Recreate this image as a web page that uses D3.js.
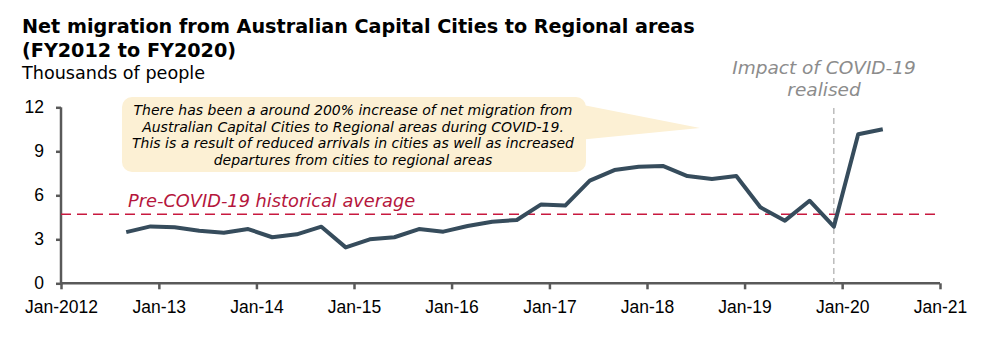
<!DOCTYPE html>
<html>
<head>
<meta charset="utf-8">
<script src="https://cdn.jsdelivr.net/npm/d3@7"></script>
<style>
    body { margin: 0; background: #fff; }
    svg { font-family: "DejaVu Sans", Verdana, sans-serif; }
    .axis path, .axis line { stroke: #595959; stroke-width: 2.5; }
    .axis text { fill: #000; font-size: 17.5px; }
</style>
</head>
<body>
<svg id="chart" width="992" height="349"></svg>
<script>
// quarterly observations, Sep 2012 .. Jun 2020
var quarters = ["2012-09", "2012-12", "2013-03", "2013-06", "2013-09", "2013-12", "2014-03", "2014-06",
    "2014-09", "2014-12", "2015-03", "2015-06", "2015-09", "2015-12", "2016-03", "2016-06",
    "2016-09", "2016-12", "2017-03", "2017-06", "2017-09", "2017-12", "2018-03", "2018-06",
    "2018-09", "2018-12", "2019-03", "2019-06", "2019-09", "2019-12", "2020-03", "2020-06"];
var netMigration = [3.49, 3.88, 3.82, 3.59, 3.45, 3.70, 3.14, 3.34,
    3.86, 2.45, 3.00, 3.14, 3.70, 3.52, 3.91, 4.20,
    4.32, 5.38, 5.30, 7.00, 7.72, 7.95, 8.00, 7.31,
    7.11, 7.31, 5.18, 4.27, 5.63, 3.86, 10.16, 10.50];
var historicalAverage = 4.70;
var covidDate = "2019-12";
var yTicks = [0, 3, 6, 9, 12];
var xTickYears = [2012, 2013, 2014, 2015, 2016, 2017, 2018, 2019, 2020, 2021];
var noteLines = ["There has been a around 200% increase of net migration from",
    "Australian Capital Cities to Regional areas during COVID-19.",
    "This is a result of reduced arrivals in cities as well as increased",
    "departures from cities to regional areas"];

var parseMonth = d3.timeParse("%Y-%m");
var data = quarters.map(function (q, i) {
    return {date: parseMonth(q), value: netMigration[i]};
});

var svg = d3.select("#chart");
var x = d3.scaleTime()
        .domain([new Date(2012, 0, 1), new Date(2021, 0, 1)])
        .range([61, 940]);
var y = d3.scaleLinear().domain([0, 12]).range([283.3, 107.3]);

// titles
svg.append("text").attr("x", 22).attr("y", 33)
        .style("font-weight", "bold").style("font-size", "19.2px")
        .text("Net migration from Australian Capital Cities to Regional areas");
svg.append("text").attr("x", 22).attr("y", 57)
        .style("font-weight", "bold").style("font-size", "19.2px")
        .text("(FY2012 to FY2020)");
svg.append("text").attr("x", 22).attr("y", 79)
        .style("font-size", "17.6px")
        .text("Thousands of people");

// callout box
var note = svg.append("g");
note.append("path")
        .attr("d", "M578,104 L700,128 L578,140 Z")
        .attr("fill", "#fcf0d4");
note.append("rect")
        .attr("x", 122).attr("y", 97).attr("width", 464).attr("height", 75)
        .attr("rx", 10).attr("fill", "#fcf0d4");
note.selectAll("text.note").data(noteLines).enter().append("text")
        .attr("class", "note")
        .attr("x", 353)
        .attr("y", function (d, i) { return 115 + i * 16.7; })
        .attr("text-anchor", "middle")
        .style("font-style", "italic").style("font-size", "14px")
        .text(function (d) { return d; });

// axes
var yAxis = d3.axisLeft(y).tickValues(yTicks).tickSize(5).tickPadding(12);
svg.append("g").attr("class", "axis")
        .attr("transform", "translate(61,0)")
        .call(yAxis)
        .call(function (g) { g.select(".domain").attr("d", "M0,107.3V285"); });

var xAxis = d3.axisBottom(x)
        .tickValues(xTickYears.map(function (yr) { return new Date(yr, 0, 1); }))
        .tickFormat(function (d) {
            return d.getFullYear() === 2012 ? "Jan-2012" : d3.timeFormat("Jan-%y")(d);
        })
        .tickSize(6).tickPadding(11);
svg.append("g").attr("class", "axis")
        .attr("transform", "translate(0,283.3)")
        .call(xAxis)
        .call(function (g) { g.select(".domain").attr("d", "M61,0H940"); });

// historical average
svg.append("line")
        .attr("x1", 61).attr("x2", 940)
        .attr("y1", y(historicalAverage)).attr("y2", y(historicalAverage))
        .attr("stroke", "#c8193f").attr("stroke-width", 1.5)
        .attr("stroke-dasharray", "10,6");
svg.append("text").attr("x", 128).attr("y", 207)
        .attr("fill", "#b5163c")
        .style("font-style", "italic").style("font-size", "17.8px")
        .text("Pre-COVID-19 historical average");

// covid marker
var cx = x(parseMonth(covidDate));
svg.append("line")
        .attr("x1", cx).attr("x2", cx).attr("y1", 108).attr("y2", 283)
        .attr("stroke", "#999").attr("stroke-width", 1)
        .attr("stroke-dasharray", "6,4");
svg.append("text").attr("x", 824).attr("y", 74)
        .attr("text-anchor", "middle").attr("fill", "#8c8c8c")
        .style("font-style", "italic").style("font-size", "18.5px")
        .text("Impact of COVID-19");
svg.append("text").attr("x", 824).attr("y", 96)
        .attr("text-anchor", "middle").attr("fill", "#8c8c8c")
        .style("font-style", "italic").style("font-size", "18.5px")
        .text("realised");

// series
var line = d3.line()
        .x(function (d) { return x(d.date); })
        .y(function (d) { return y(d.value); });
svg.append("path")
        .datum(data)
        .attr("fill", "none")
        .attr("stroke", "#364c5c")
        .attr("stroke-width", 4)
        .attr("stroke-linejoin", "round")
        .attr("d", line);
</script>
</body>
</html>
